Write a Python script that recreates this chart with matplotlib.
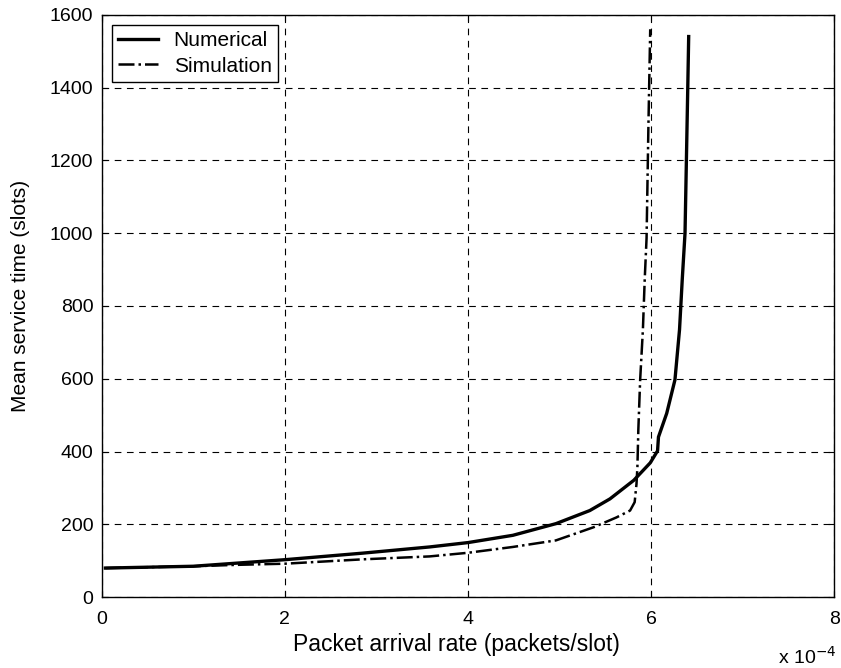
import matplotlib.pyplot as plt
from matplotlib.ticker import MultipleLocator

plt.rcParams['font.family'] = ['Liberation Sans', 'DejaVu Sans']

# arrival rate in units of 1e-4 packets/slot
x_num = [0.04, 1.0, 2.0, 2.85, 3.58, 4.0, 4.49, 4.96, 5.33, 5.55, 5.81, 5.99,
         6.07, 6.08, 6.17, 6.26, 6.31, 6.34, 6.37, 6.385, 6.40, 6.41]
y_num = [80, 85, 103, 121, 138, 150, 170, 202, 238, 270, 321, 369,
         402, 440, 505, 597, 735, 874, 1000, 1200, 1400, 1540]

x_sim = [0.04, 1.0, 1.5, 2.0, 2.85, 3.58, 4.0, 4.49, 4.96, 5.37, 5.62, 5.77,
         5.82, 5.84, 5.85, 5.86, 5.88, 5.91, 5.93, 5.95, 5.97, 5.99]
y_sim = [80, 85, 89, 92, 104, 112, 122, 138, 156, 192, 219, 238,
         261, 311, 358, 459, 597, 735, 874, 986, 1292, 1560]

fig = plt.figure(figsize=(8.41, 6.68), dpi=100)
ax = fig.add_axes([0.121, 0.106, 0.871, 0.872])

ax.plot(x_num, y_num, 'k-', lw=2.4, label='Numerical')
ax.plot(x_sim, y_sim, 'k-.', lw=1.8, label='Simulation')

ax.set_xlim(0, 8)
ax.set_ylim(0, 1600)
ax.xaxis.set_major_locator(MultipleLocator(2))
ax.yaxis.set_major_locator(MultipleLocator(200))
ax.tick_params(direction='in', top=True, right=True, labelsize=14, length=4)
ax.tick_params(axis='x', pad=10)
ax.tick_params(axis='y', pad=6)
ax.grid(True, color='k', linestyle=(0, (6, 5)), linewidth=0.8)
for s in ax.spines.values():
    s.set_linewidth(1.0)

ax.set_xlabel('Packet arrival rate (packets/slot)', fontsize=16.5, labelpad=2)
ax.xaxis.set_label_coords(0.484, -0.062)
ax.set_ylabel('Mean service time (slots)', fontsize=15, labelpad=13)
ax.yaxis.set_label_coords(-0.098, 0.517)
fig.text(0.925, 0.006, 'x 10$^{-4}$', fontsize=14, va='baseline')

leg = ax.legend(loc='upper left', fontsize=15, fancybox=False, framealpha=1,
                edgecolor='k', handlelength=1.9, handletextpad=0.75,
                borderaxespad=0.5, borderpad=0.3, labelspacing=0.3)
leg.get_frame().set_linewidth(1.0)

plt.savefig('out.png')
